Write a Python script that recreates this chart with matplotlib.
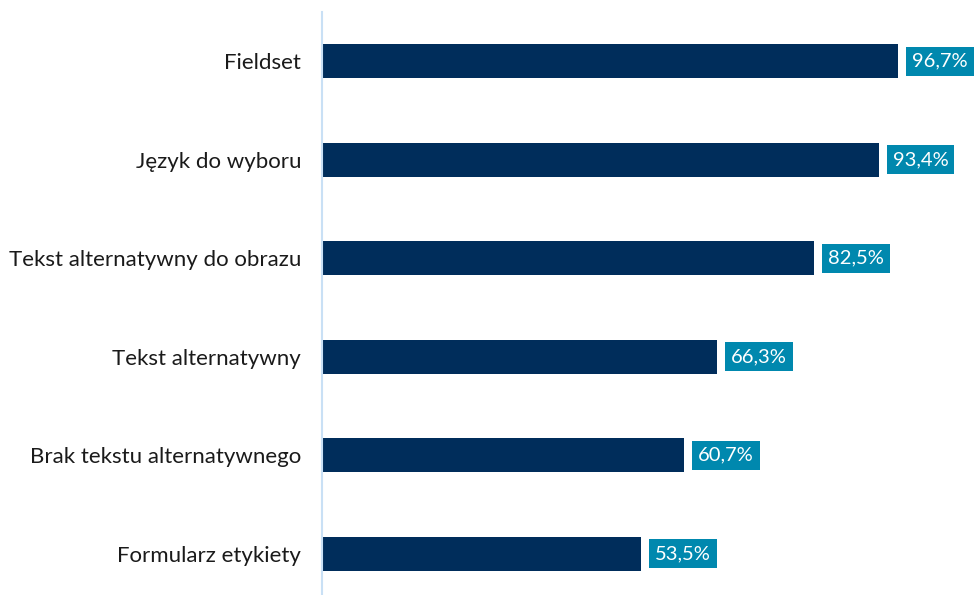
import matplotlib.pyplot as plt

plt.rcParams['font.family'] = ['Lato', 'DejaVu Sans']

categories = ['Fieldset', 'Język do wyboru', 'Tekst alternatywny do obrazu',
              'Tekst alternatywny', 'Brak tekstu alternatywnego', 'Formularz etykiety']
values = [96.7, 93.4, 82.5, 66.3, 60.7, 53.5]

bar_color = '#002D5B'
box_color = '#0088AE'

fig = plt.figure(figsize=(9.78, 5.95), dpi=100)
ax = fig.add_axes([322 / 978, 0, 596 / 978, 1 - 12 / 595])

pos = list(range(len(categories)))
ax.barh(pos, values, height=0.345, color=bar_color)

for p, v in zip(pos, values):
    ax.annotate(f'{v:.1f}%'.replace('.', ','), (v, p), xytext=(14, 0),
                textcoords='offset pixels', ha='left', va='center',
                color='white', fontsize=14.5, clip_on=False,
                bbox=dict(boxstyle='square,pad=0.3', fc=box_color, ec='none'))

ax.set_xlim(0, 100)
ax.set_ylim(5.42, -0.5)
ax.set_yticks(pos)
ax.set_yticklabels(categories, fontsize=16, color='#1a1a1a')
ax.tick_params(axis='y', length=0, pad=15)
ax.set_xticks([])
for s in ['top', 'right', 'bottom']:
    ax.spines[s].set_visible(False)
ax.spines['left'].set_color('#C9E0F5')
ax.spines['left'].set_linewidth(1.5)

fig.savefig('out.png', dpi=100)
